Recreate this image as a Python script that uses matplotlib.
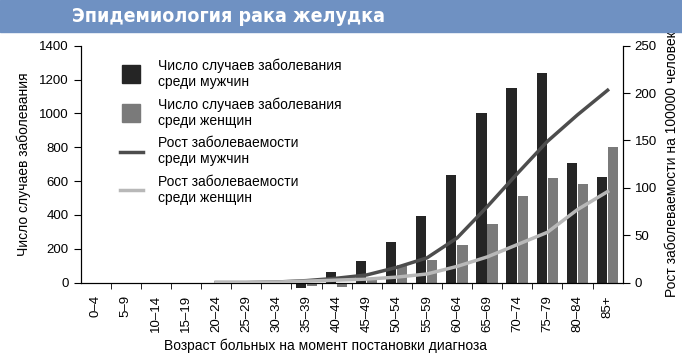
import numpy as np
import matplotlib
matplotlib.use("Agg")
import matplotlib.pyplot as plt
from matplotlib.lines import Line2D
from matplotlib.patches import Rectangle

plt.rcParams['font.family'] = ['Liberation Sans', 'DejaVu Sans']

# age groups
ages = ['0–4', '5–9', '10–14', '15–19', '20–24', '25–29', '30–34', '35–39',
        '40–44', '45–49', '50–54', '55–59', '60–64', '65–69', '70–74',
        '75–79', '80–84', '85+']

# number of cases (left axis)
cases_men = [0, 0, 0, 0, 0, 0, -10, -30, 62, 130, 240, 395, 635, 1005,
             1150, 1240, 705, 625]
cases_women = [0, 0, 0, 0, 0, 0, -8, -20, -25, 15, 105, 135, 220, 345,
               512, 620, 582, 800]

# incidence per 100000 (right axis)
rate_men = [np.nan, np.nan, np.nan, np.nan, 0, 0, 0.5, 2, 4.5, 8, 16, 26,
            47, 80, 115, 149, 177, 203]
rate_women = [np.nan, np.nan, np.nan, np.nan, 0, 0, 0.5, 1.5, 2.5, 3.6,
              5.7, 9, 17, 27, 40, 53, 77, 96]

fig = plt.figure(figsize=(6.82, 3.53), dpi=100)

# title banner
fig.patches.append(Rectangle((0, 0.909), 1, 0.091, transform=fig.transFigure,
                             color='#6F91C2', zorder=0))
fig.text(0.335, 0.953, 'Эпидемиология рака желудка', color='white',
         fontsize=14, fontweight='bold', family='DejaVu Sans',
         fontstretch='condensed', ha='center', va='center')

ax = fig.add_axes([0.1183, 0.1997, 0.7947, 0.6708])
x = np.arange(len(ages))
w = 0.34
ax.bar(x - 0.19, cases_men, w, color='#252525', zorder=2, clip_on=False)
ax.bar(x + 0.18, cases_women, w, color='#7a7a7a', zorder=2, clip_on=False)

ax.set_xlim(-0.5, 17.5)
ax.set_ylim(0, 1400)
ax.set_yticks(range(0, 1401, 200))
ax.set_xticks(x)
ax.set_xticklabels(ages, rotation=90, fontsize=9.5)
ax.set_xticks(x[:-1] + 0.5, minor=True)
ax.tick_params(axis='x', which='major', length=0, pad=9)
ax.tick_params(axis='x', which='minor', length=4, direction='out')
ax.tick_params(axis='y', labelsize=9.5, length=5)
ax.spines['top'].set_visible(False)
ax.set_ylabel('Число случаев заболевания', fontsize=10, labelpad=6)
ax.set_xlabel('Возраст больных на момент постановки диагноза', fontsize=10)
ax.xaxis.set_label_coords(0.452, -0.235)

ax2 = ax.twinx()
ax2.plot(x, rate_men, color='#4d4d4d', lw=2.5, zorder=3)
ax2.plot(x, rate_women, color='#b8b8b8', lw=2.5, zorder=3)
ax2.set_ylim(0, 250)
ax2.set_yticks(range(0, 251, 50))
ax2.tick_params(axis='y', labelsize=9.5, length=5)
ax2.spines['top'].set_visible(False)
ax2.set_ylabel('Рост заболеваемости на 100000 человек', fontsize=10, labelpad=6)

handles = [
    Line2D([], [], marker='s', color='#252525', markersize=13, linestyle='none'),
    Line2D([], [], marker='s', color='#7a7a7a', markersize=13, linestyle='none'),
    Line2D([], [], color='#4d4d4d', lw=2.5),
    Line2D([], [], color='#b8b8b8', lw=2.5),
]
labels = ['Число случаев заболевания\nсреди мужчин',
          'Число случаев заболевания\nсреди женщин',
          'Рост заболеваемости\nсреди мужчин',
          'Рост заболеваемости\nсреди женщин']
ax2.legend(handles, labels, loc='upper left', bbox_to_anchor=(0.05, 1.0),
           frameon=False, fontsize=10, handlelength=1.6, labelspacing=0.6,
           handletextpad=1.1)

fig.savefig('out.png', dpi=100)
